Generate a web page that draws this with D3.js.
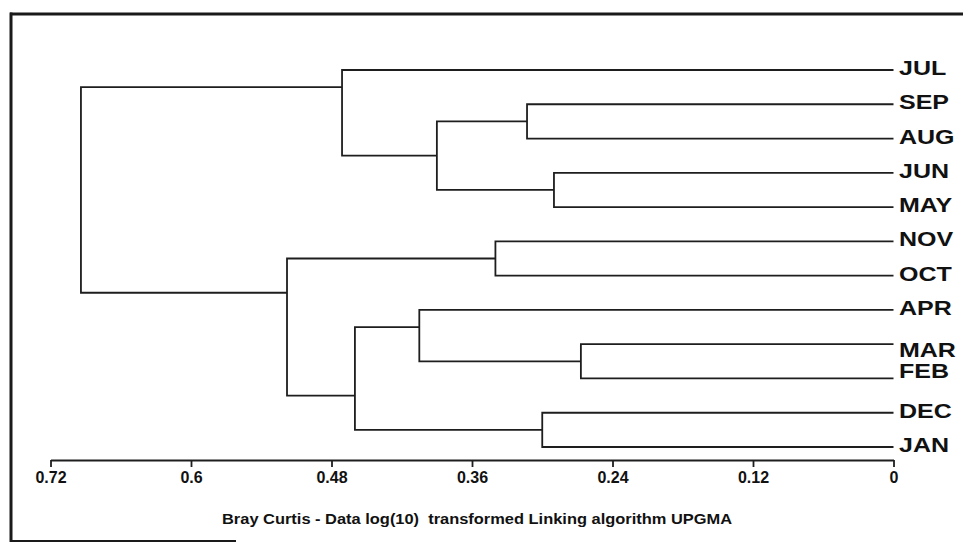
<!DOCTYPE html>
<html>
<head>
<meta charset="utf-8">
<script src="https://cdn.jsdelivr.net/npm/d3@7"></script>
<style>
  html, body { margin: 0; padding: 0; background: #fff; }
  svg { display: block; }
</style>
</head>
<body>
<svg id="chart" width="963" height="543"></svg>
<script>
// ---- data ----
const leaves = ["JUL","SEP","AUG","JUN","MAY","NOV","OCT","APR","MAR","FEB","DEC","JAN"];
// merges: [left id, right id, linkage distance]; merge i gets id "m"+(i+1)
const merges = [
  ["SEP","AUG",0.313],
  ["JUN","MAY",0.290],
  ["m1","m2",0.390],
  ["JUL","m3",0.471],
  ["NOV","OCT",0.340],
  ["MAR","FEB",0.267],
  ["APR","m6",0.405],
  ["DEC","JAN",0.300],
  ["m7","m8",0.460],
  ["m5","m9",0.518],
  ["m4","m10",0.694]
];
const tickValues = [0.72, 0.6, 0.48, 0.36, 0.24, 0.12, 0];
const tickLabels = ["0.72","0.6","0.48","0.36","0.24","0.12","0"];
const axisTitle = "Bray Curtis - Data log(10)  transformed Linking algorithm UPGMA";

// ---- layout ----
const svg = d3.select("#chart");
const x = d3.scaleLinear().domain([0.72, 0]).range([50.5, 893.5]);
const y = d3.scalePoint().domain(leaves).range([70, 447]);
const labelNudge = { MAR: 8, FEB: -5 };
const lineColor = "#1e1e1e";
const font = "'Liberation Sans', Arial, sans-serif";

// frame (partial border as in the scan)
const frame = svg.append("g").attr("stroke", "#1a1a1a").attr("fill", "none");
frame.append("line").attr("x1", 10).attr("x2", 963).attr("y1", 14).attr("y2", 14).attr("stroke-width", 3);
frame.append("line").attr("x1", 11).attr("x2", 11).attr("y1", 12.5).attr("y2", 542).attr("stroke-width", 3);
frame.append("line").attr("x1", 10).attr("x2", 236).attr("y1", 541).attr("y2", 541).attr("stroke-width", 2);

// build nodes
const nodes = {};
leaves.forEach(n => { nodes[n] = { id: n, dist: 0, y: y(n), first: n, last: n }; });
merges.forEach((m, i) => {
  const a = nodes[m[0]], b = nodes[m[1]];
  nodes["m" + (i + 1)] = {
    id: "m" + (i + 1), dist: m[2], a, b,
    first: a.first, last: b.last,
    y: (y(a.last) + y(b.first)) / 2
  };
});

const g = svg.append("g").attr("stroke", lineColor).attr("stroke-width", 1.8).attr("fill", "none");
merges.forEach((m, i) => {
  const n = nodes["m" + (i + 1)];
  const xn = x(n.dist);
  g.append("path").attr("d", `M${x(n.a.dist)},${n.a.y}H${xn}V${n.b.y}H${x(n.b.dist)}`);
});

// leaf labels
const lab = svg.append("g")
  .attr("font-family", font)
  .attr("font-weight", "bold").attr("font-size", 20).attr("fill", "#111");
leaves.forEach(n => {
  lab.append("g")
    .attr("transform", `translate(899,${y(n) + 5 + (labelNudge[n] || 0)}) scale(1.25,1)`)
    .append("text").text(n);
});

// axis
const axis = d3.axisBottom(x)
  .tickValues(tickValues)
  .tickFormat((d, i) => tickLabels[i])
  .tickSize(7).tickSizeOuter(0).tickPadding(5);
const ax = svg.append("g").attr("transform", "translate(0,460)").call(axis);
ax.select(".domain").attr("stroke", lineColor).attr("stroke-width", 2);
ax.selectAll(".tick line").attr("stroke", lineColor).attr("stroke-width", 1.8);
ax.selectAll(".tick text")
  .attr("font-family", font)
  .attr("font-weight", "bold").attr("font-size", 16).attr("fill", "#111");

svg.append("text")
  .attr("x", 222).attr("y", 524)
  .attr("font-family", font)
  .attr("font-weight", "bold").attr("font-size", 14).attr("fill", "#111")
  .attr("textLength", 510).attr("lengthAdjust", "spacingAndGlyphs")
  .style("white-space", "pre")
  .text(axisTitle);
</script>
</body>
</html>
